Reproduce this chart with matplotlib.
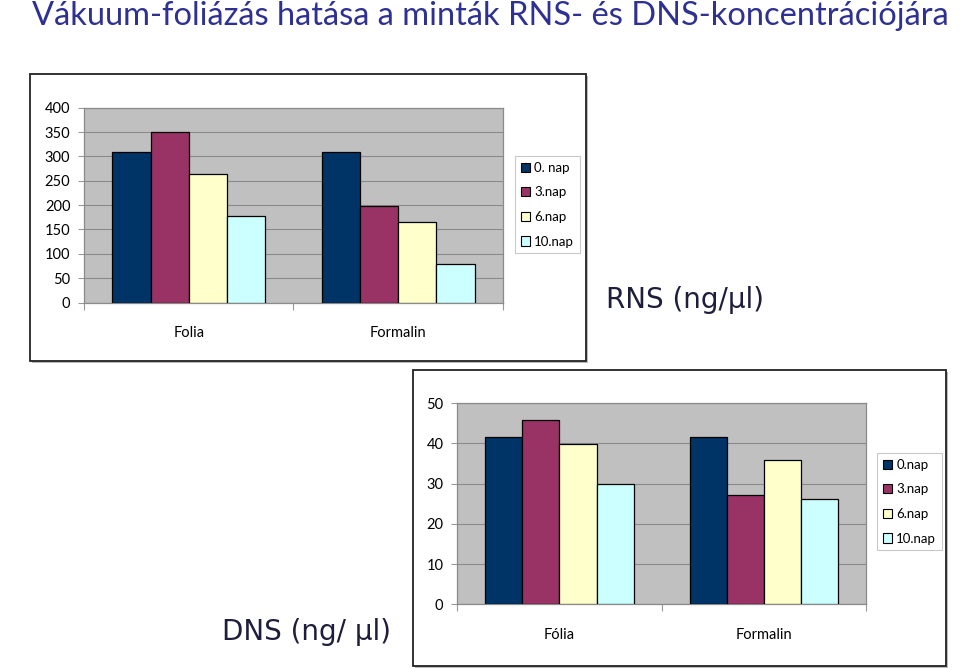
import matplotlib
matplotlib.use("Agg")
import matplotlib.pyplot as plt
from matplotlib.patches import Rectangle, Patch
import numpy as np

# ---- data ----
rns_categories = ["Folia", "Formalin"]
rns_series = ["0. nap", "3.nap", "6.nap", "10.nap"]
rns_values = {
    "0. nap": [310, 310],
    "3.nap": [350, 198],
    "6.nap": [263, 165],
    "10.nap": [177, 80],
}
rns_yticks = [0, 50, 100, 150, 200, 250, 300, 350, 400]

dns_categories = ["Fólia", "Formalin"]
dns_series = ["0.nap", "3.nap", "6.nap", "10.nap"]
dns_values = {
    "0.nap": [41.7, 41.7],
    "3.nap": [45.9, 27.3],
    "6.nap": [39.8, 35.8],
    "10.nap": [29.9, 26.2],
}
dns_yticks = [0, 10, 20, 30, 40, 50]

colors = ["#003366", "#993366", "#FFFFCC", "#CCFFFF"]

title = "Vákuum-foliázás hatása a minták RNS- és DNS-koncentrációjára"
rns_label = "RNS (ng/µl)"
dns_label = "DNS (ng/ µl)"

W, H = 960, 668
fig = plt.figure(figsize=(W / 100, H / 100), dpi=100)
fig.patch.set_facecolor("white")

def fx(px):
    return px / W

def fy(py):
    return 1 - py / H

# frames around the charts
def frame(x0, y0, x1, y1):
    fig.patches.append(Rectangle((fx(x0) + 0.002, fy(y1) - 0.003), fx(x1 - x0), (y1 - y0) / H,
                                 transform=fig.transFigure, facecolor="#bbbbbb",
                                 edgecolor="none", zorder=-2))
    fig.patches.append(Rectangle((fx(x0), fy(y1)), fx(x1 - x0), (y1 - y0) / H,
                                 transform=fig.transFigure, facecolor="white",
                                 edgecolor="#222222", linewidth=1.3, zorder=-1))

frame(30, 74, 586, 361)
frame(413, 370, 946, 666)

tick_font = {"family": "Lato", "size": 10.5}

def draw_chart(rect, cats, series, values, yticks, ymax, group, legend_anchor):
    ax = fig.add_axes(rect)
    ax.set_zorder(2)
    ax.set_facecolor("#C0C0C0")
    n = len(series)
    w = group / n
    x = np.arange(len(cats))
    for i, s in enumerate(series):
        ax.bar(x - group / 2 + w * (i + 0.5), values[s], width=w, color=colors[i],
               edgecolor="black", linewidth=0.9, label=s, zorder=3)
    ax.set_xlim(-0.5, len(cats) - 0.5)
    ax.set_ylim(0, ymax)
    ax.set_yticks(yticks)
    ax.set_yticklabels([str(t) for t in yticks], fontdict=tick_font)
    ax.yaxis.grid(True, color="#8a8a8a", linewidth=0.8, zorder=1)
    ax.set_axisbelow(True)
    # x ticks at category boundaries, labels at centres
    ax.set_xticks(np.arange(len(cats) + 1) - 0.5)
    ax.set_xticklabels([""] * (len(cats) + 1))
    ax.set_xticks(x, minor=True)
    ax.set_xticklabels(cats, minor=True, fontdict=tick_font)
    ax.tick_params(axis="x", which="minor", length=0, pad=17)
    ax.tick_params(axis="x", which="major", length=5, color="#999999", direction="out")
    ax.tick_params(axis="y", length=4, color="#999999", pad=6)
    for sp in ax.spines.values():
        sp.set_color("#8a8a8a")
        sp.set_linewidth(0.9)
    handles = [Patch(facecolor=colors[i], edgecolor="black", linewidth=0.8, label=s)
               for i, s in enumerate(series)]
    leg = fig.legend(handles=handles, loc="upper left", bbox_to_anchor=legend_anchor,
                     bbox_transform=fig.transFigure, frameon=True, fancybox=False,
                     edgecolor="#bbbbbb", prop={"family": "Lato", "size": 9.5},
                     handlelength=0.7, handleheight=0.7, handletextpad=0.3,
                     labelspacing=0.95, borderpad=0.45, borderaxespad=0)
    leg.get_frame().set_linewidth(0.8)
    leg.set_zorder(3)
    return ax

draw_chart([fx(84.3), fy(302.5), fx(502.7 - 84.3), 194.8 / H],
           rns_categories, rns_series, rns_values, rns_yticks, 400, 0.731,
           (fx(515), fy(156)))
draw_chart([fx(457.3), fy(604.3), fx(866 - 457.3), 201 / H],
           dns_categories, dns_series, dns_values, dns_yticks, 50, 0.725,
           (fx(877), fy(453)))

fig.text(fx(490), fy(16), title, ha="center", va="center", color="#2E3192",
         fontsize=23.5, family="Lato")
fig.text(fx(685), fy(300), rns_label, ha="center", va="center", color="#1E1E3C",
         fontsize=20, family="DejaVu Sans")
fig.text(fx(307), fy(632), dns_label, ha="center", va="center", color="#1E1E3C",
         fontsize=20, family="DejaVu Sans")

fig.savefig("out.png", dpi=100)
